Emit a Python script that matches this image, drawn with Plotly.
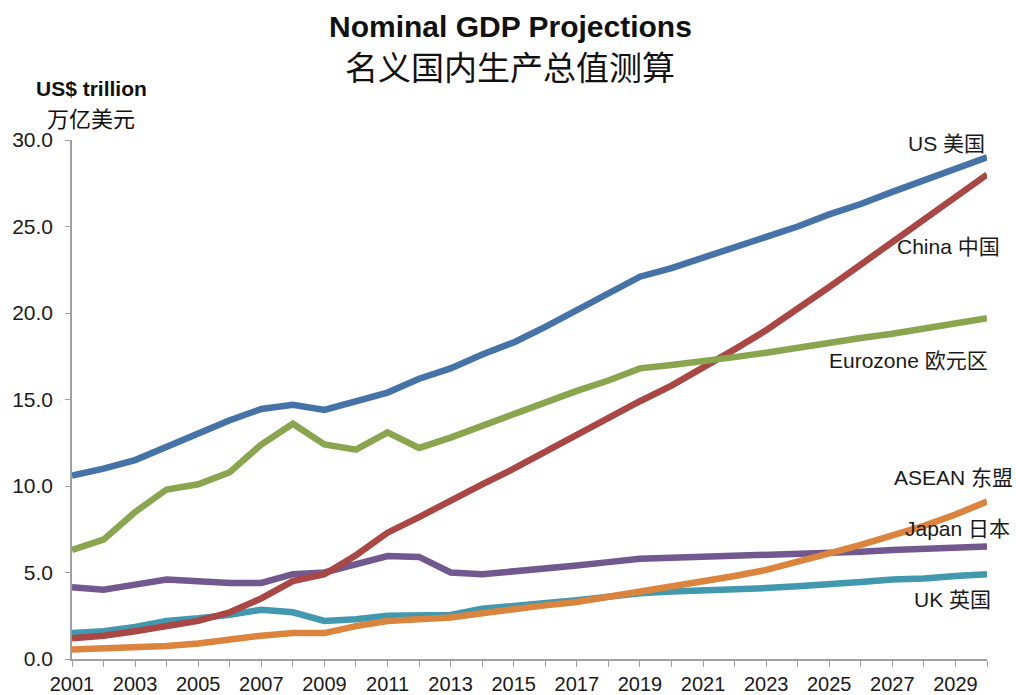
import plotly.graph_objects as go

years = list(range(2001, 2031))

us = [10.6, 11.0, 11.5, 12.3, 13.1, 13.8, 14.45, 14.7, 14.4, 14.9,
      15.4, 16.2, 16.8, 17.6, 18.3, 19.2, 20.2, 21.1, 22.1, 22.6,
      23.2, 23.8, 24.4, 25.0, 25.7, 26.3, 27.0, 27.7, 28.4, 29.0]
china = [1.2, 1.35, 1.6, 1.9, 2.2, 2.7, 3.5, 4.5, 4.9, 6.0,
         7.3, 8.2, 9.2, 10.1, 11.0, 12.0, 13.0, 14.0, 14.9, 15.8,
         16.8, 17.9, 19.0, 20.2, 21.5, 22.8, 24.1, 25.4, 26.7, 28.0]
eurozone = [6.3, 6.9, 8.5, 9.8, 10.1, 10.8, 12.4, 13.6, 12.4, 12.1,
            13.1, 12.2, 12.8, 13.5, 14.2, 14.9, 15.5, 16.1, 16.8, 17.0,
            17.2, 17.45, 17.7, 18.0, 18.3, 18.55, 18.8, 19.1, 19.4, 19.7]
asean = [0.55, 0.6, 0.7, 0.75, 0.9, 1.15, 1.35, 1.5, 1.5, 1.9,
         2.2, 2.3, 2.4, 2.65, 2.9, 3.1, 3.3, 3.6, 3.9, 4.15,
         4.45, 4.8, 5.15, 5.6, 6.1, 6.6, 7.15, 7.7, 8.35, 9.1]
japan = [4.15, 4.0, 4.3, 4.6, 4.5, 4.4, 4.4, 4.9, 5.0, 5.5,
         5.95, 5.9, 5.0, 4.9, 5.05, 5.2, 5.4, 5.6, 5.8, 5.85,
         5.9, 5.95, 6.0, 6.05, 6.1, 6.2, 6.3, 6.35, 6.45, 6.5]
uk = [1.5, 1.6, 1.85, 2.2, 2.35, 2.55, 2.85, 2.7, 2.2, 2.3,
      2.5, 2.55, 2.55, 2.9, 3.05, 3.2, 3.4, 3.6, 3.8, 3.9,
      3.95, 4.0, 4.1, 4.2, 4.3, 4.45, 4.6, 4.65, 4.8, 4.9]

series = [
    ("UK 英国", uk, "#4198AF"),
    ("Japan 日本", japan, "#71588F"),
    ("ASEAN 东盟", asean, "#DB843D"),
    ("China 中国", china, "#AA4643"),
    ("Eurozone 欧元区", eurozone, "#89A54E"),
    ("US 美国", us, "#4572A7"),
]

y_ticks = [0, 5, 10, 15, 20, 25, 30]
x_ticks = list(range(2001, 2030, 2))

FONT = "Liberation Sans, Arial, Noto Sans CJK SC, sans-serif"
CJK = "Noto Sans CJK SC, sans-serif"

fig = go.Figure()
for name, vals, color in series:
    fig.add_trace(go.Scatter(
        x=years, y=vals, mode="lines", name=name,
        line=dict(color=color, width=6.5),
        hoverinfo="x+y+name",
    ))

# Series labels placed next to the line ends (paper coordinates)
labels = [
    ("US 美国", 1.000, 0.994),
    ("China 中国", 1.0164, 0.794),
    ("Eurozone 欧元区", 1.0033, 0.576),
    ("ASEAN 东盟", 1.0306, 0.349),
    ("Japan 日本", 1.027, 0.252),
    ("UK 英国", 1.0066, 0.114),
]
annotations = []
for text, x, y in labels:
    annotations.append(dict(
        text=text, xref="paper", yref="paper", x=x, y=y,
        xanchor="right", yanchor="middle", showarrow=False,
        font=dict(family=FONT, size=21, color="#1a1a1a"),
    ))

annotations += [
    dict(text="<b>Nominal GDP Projections</b>", xref="paper", yref="paper",
         x=0.479, y=1.218, xanchor="center", yanchor="middle", showarrow=False,
         font=dict(family=FONT, size=30, color="#111111")),
    dict(text="名义国内生产总值测算", xref="paper", yref="paper",
         x=0.479, y=1.143, xanchor="center", yanchor="middle", showarrow=False,
         font=dict(family=CJK, size=33, color="#111111")),
    dict(text="<b>US$ trillion</b>", xref="paper", yref="paper",
         x=0.0208, y=1.099, xanchor="center", yanchor="middle", showarrow=False,
         borderpad=0, font=dict(family=FONT, size=21, color="#111111")),
    dict(text="万亿美元", xref="paper", yref="paper",
         x=0.0208, y=1.044, xanchor="center", yanchor="middle", showarrow=False,
         borderpad=0, font=dict(family=CJK, size=22, color="#111111")),
]

fig.update_layout(
    width=1016, height=695,
    margin=dict(l=72, r=29, t=140, b=36, pad=0),
    paper_bgcolor="white", plot_bgcolor="white",
    showlegend=False,
    annotations=annotations,
    font=dict(family=FONT, color="#1a1a1a"),
)
fig.update_xaxes(
    range=[2001, 2030], tickmode="array", tickvals=x_ticks,
    ticktext=[str(v) for v in x_ticks],
    ticks="outside", ticklen=6, tickcolor="#A0A0A0", tickwidth=1,
    minor=dict(dtick=1, tick0=2001, ticks="outside", ticklen=6,
               tickcolor="#A0A0A0", showgrid=False),
    showline=True, linecolor="#A0A0A0", linewidth=1.5,
    showgrid=False, zeroline=False, automargin=False,
    ticklabelstandoff=0,
    tickfont=dict(family=FONT, size=20, color="#1a1a1a"),
)
fig.update_yaxes(
    range=[0, 30], tickmode="array", tickvals=y_ticks,
    ticktext=[f"{v:.1f}" for v in y_ticks],
    ticks="outside", ticklen=5, tickcolor="#A0A0A0", tickwidth=1,
    showline=True, linecolor="#A0A0A0", linewidth=1.5,
    showgrid=False, zeroline=False, automargin=False,
    ticklabelstandoff=8,
    tickfont=dict(family=FONT, size=21, color="#1a1a1a"),
)

fig.write_html("out.html")
